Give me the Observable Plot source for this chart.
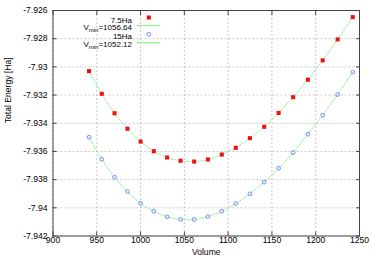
<!DOCTYPE html>
<html><head><meta charset="utf-8">
<script src="https://cdn.jsdelivr.net/npm/d3@7"></script>
<script src="https://cdn.jsdelivr.net/npm/@observablehq/plot@0.6"></script>
<style>
body{margin:0;background:#fff}
#chart svg{font-family:"Liberation Sans",Arial,sans-serif;}
</style>
</head><body><div id="chart"></div>
<script>
const volumes = [941.19, 955.67, 970.30, 985.08, 1000.00, 1015.08, 1030.30, 1045.68, 1061.21, 1076.89, 1092.73, 1108.72, 1124.86, 1141.17, 1157.63, 1174.24, 1191.02, 1207.95, 1225.04, 1242.30];
const energy75 = [-7.93030, -7.93191, -7.93329, -7.93439, -7.93530, -7.93598, -7.93643, -7.93666, -7.93672, -7.93657, -7.93622, -7.93574, -7.93506, -7.93425, -7.93327, -7.93215, -7.93091, -7.92954, -7.92805, -7.92647];
const energy15 = [-7.93499, -7.93655, -7.93783, -7.93885, -7.93968, -7.94024, -7.94064, -7.94082, -7.94083, -7.94062, -7.94024, -7.93970, -7.93901, -7.93818, -7.93719, -7.93608, -7.93478, -7.93343, -7.93196, -7.93037];
const seriesNames = ["7.5Ha", "15Ha"];
const vminLabels = ["V_min=1056.64", "V_min=1052.12"];
const xTicks = [900, 950, 1000, 1050, 1100, 1150, 1200, 1250];
const xTickLabels = ["900", "950", "1000", "1050", "1100", "1150", "1200", "1250"];
const yTicks = [-7.942, -7.940, -7.938, -7.936, -7.934, -7.932, -7.930, -7.928, -7.926];
const yTickLabels = ["-7.942", "-7.94", "-7.938", "-7.936", "-7.934", "-7.932", "-7.93", "-7.928", "-7.926"];
const xLabel = "Volume";
const yLabel = "Total Energy [Ha]";

const rows75 = volumes.map((v, i) => ({volume: v, energy: energy75[i], series: seriesNames[0]}));
const rows15 = volumes.map((v, i) => ({volume: v, energy: energy15[i], series: seriesNames[1]}));
const yFmt = d => { const i = yTicks.findIndex(t => Math.abs(t - d) < 1e-9); return i >= 0 ? yTickLabels[i] : ""; };
const xFmt = d => { const i = xTicks.indexOf(d); return i >= 0 ? xTickLabels[i] : ""; };

const fitColor = "#90ee90";
const axisColor = "#444";
const redFill = "#ee1111";
const blueStroke = "#6f80ff";
const lineShape = {draw(context, l) { context.moveTo(0, 0); context.lineTo(0, -l); }};

const chart = Plot.plot({
  width: 373, height: 261,
  marginLeft: 52.5, marginRight: 14, marginTop: 10, marginBottom: 25.5,
  style: {fontSize: "8.6px", background: "#fff", color: "#000", fontFamily: "'Liberation Sans', Arial, sans-serif"},
  x: {domain: [900, 1250]},
  y: {domain: [-7.942, -7.926]},
  marks: [
    Plot.gridX(xTicks, {stroke: "#c8c8c8", strokeOpacity: 1, strokeDasharray: "2,2"}),
    Plot.gridY(yTicks, {stroke: "#c8c8c8", strokeOpacity: 1, strokeDasharray: "2,2"}),
    Plot.axisX(xTicks, {anchor: "bottom", tickSize: -4, tickPadding: 5, tickFormat: xFmt, label: null, stroke: axisColor}),
    Plot.axisX(xTicks, {anchor: "top", tickSize: -4, tickFormat: () => "", label: null, stroke: axisColor}),
    Plot.axisY(yTicks, {anchor: "left", tickSize: -4, tickPadding: 9.5, tickFormat: yFmt, label: null, stroke: axisColor}),
    Plot.axisY(yTicks, {anchor: "right", tickSize: -4, tickFormat: () => "", label: null, stroke: axisColor}),
    Plot.frame({stroke: axisColor}),
    Plot.line([...rows75, ...rows15], {x: "volume", y: "energy", z: "series", curve: "natural", stroke: fitColor, strokeWidth: 1, strokeDasharray: "1.5,1.5"}),
    Plot.dot(rows75, {x: "volume", y: "energy", symbol: "square", r: 2.3, fill: redFill, stroke: "none"}),
    Plot.dot(rows15, {x: "volume", y: "energy", symbol: "circle", r: 1.9, fill: "none", stroke: blueStroke, strokeWidth: 0.9}),
    // legend
    Plot.text([seriesNames[0]], {frameAnchor: "top-left", dx: 79, dy: 6.5, textAnchor: "end", fontSize: "8px"}),
    Plot.dot([0], {frameAnchor: "top-left", dx: 95.8, dy: 7, symbol: "square", r: 2.3, fill: redFill, stroke: "none"}),
    Plot.text([vminLabels[0]], {frameAnchor: "top-left", dx: 79, dy: 14, textAnchor: "end", fontSize: "8px"}),
    Plot.vector([0], {frameAnchor: "top-left", dx: 84.2, dy: 15, rotate: 90, length: 23.3, anchor: "start", shape: lineShape, stroke: fitColor, strokeDasharray: "1.5,1.5"}),
    Plot.text([seriesNames[1]], {frameAnchor: "top-left", dx: 79, dy: 23.2, textAnchor: "end", fontSize: "8px"}),
    Plot.dot([0], {frameAnchor: "top-left", dx: 95.8, dy: 23.7, symbol: "circle", r: 1.9, fill: "none", stroke: blueStroke, strokeWidth: 0.9}),
    Plot.text([vminLabels[1]], {frameAnchor: "top-left", dx: 79, dy: 31, textAnchor: "end", fontSize: "8px"}),
    Plot.vector([0], {frameAnchor: "top-left", dx: 84.2, dy: 32.3, rotate: 90, length: 23.3, anchor: "start", shape: lineShape, stroke: fitColor, strokeDasharray: "1.5,1.5"}),
    // axis titles
    Plot.text([xLabel], {frameAnchor: "bottom", dy: 19}),
    Plot.text([yLabel], {frameAnchor: "left", rotate: -90, dx: -44.5})
  ]
});
document.getElementById("chart").appendChild(chart);

// subscript for V_min labels
d3.select(chart).selectAll("text").each(function() {
  const t = d3.select(this);
  const s = t.text();
  if (s.startsWith("V_min")) {
    const rest = s.slice(5);
    t.text("");
    t.append("tspan").text("V");
    t.append("tspan").attr("font-size", "6px").attr("dy", "1.5").text("min");
    t.append("tspan").attr("dy", "-1.5").text(rest);
  }
});
</script>
</body></html>
